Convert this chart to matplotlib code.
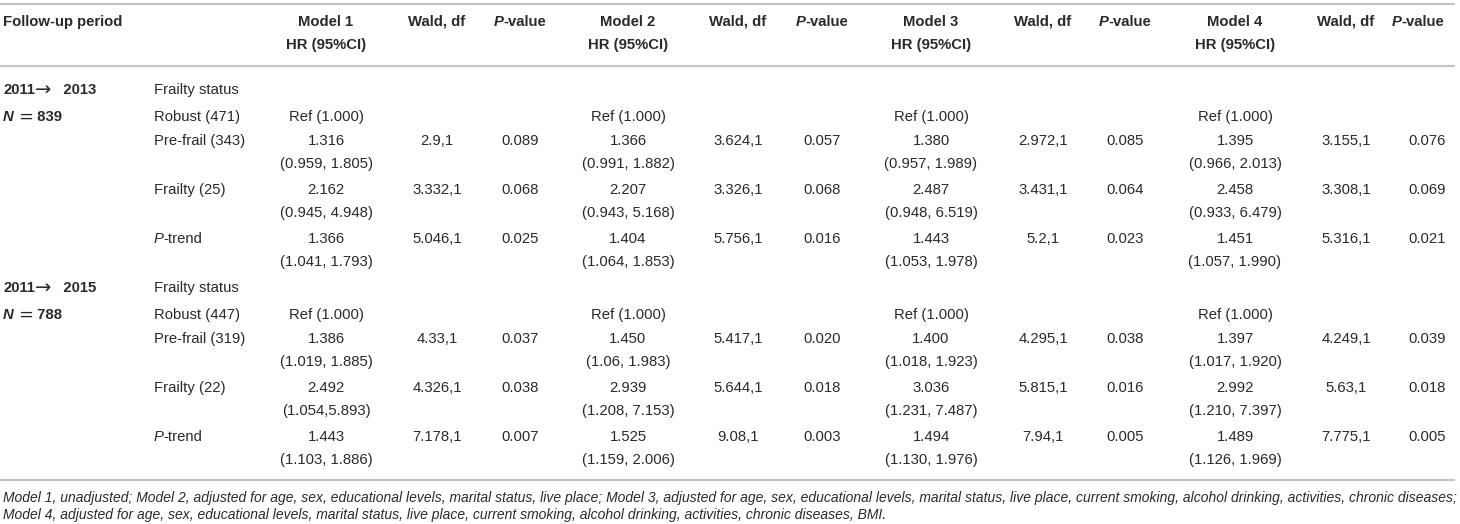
import matplotlib
matplotlib.use('Agg')
import matplotlib.pyplot as plt

plt.rcParams['font.family'] = ['Liberation Sans', 'DejaVu Sans']

# table content
models = ['Model 1', 'Model 2', 'Model 3', 'Model 4']
period_start = ['2011', '2011']
period_end = ['2013', '2015']
period_n = ['839', '788']
groups = [['Robust (471)', 'Pre-frail (343)', 'Frailty (25)'],
          ['Robust (447)', 'Pre-frail (319)', 'Frailty (22)']]

# rows: pre-frail, frailty, p-trend ; columns: model 1..4
hr_2013 = [['1.316', '1.366', '1.380', '1.395'],
           ['2.162', '2.207', '2.487', '2.458'],
           ['1.366', '1.404', '1.443', '1.451']]
ci_2013 = [['(0.959, 1.805)', '(0.991, 1.882)', '(0.957, 1.989)', '(0.966, 2.013)'],
           ['(0.945, 4.948)', '(0.943, 5.168)', '(0.948, 6.519)', '(0.933, 6.479)'],
           ['(1.041, 1.793)', '(1.064, 1.853)', '(1.053, 1.978)', '(1.057, 1.990)']]
wald_2013 = [['2.9,1', '3.624,1', '2.972,1', '3.155,1'],
             ['3.332,1', '3.326,1', '3.431,1', '3.308,1'],
             ['5.046,1', '5.756,1', '5.2,1', '5.316,1']]
p_2013 = [['0.089', '0.057', '0.085', '0.076'],
          ['0.068', '0.068', '0.064', '0.069'],
          ['0.025', '0.016', '0.023', '0.021']]

hr_2015 = [['1.386', '1.450', '1.400', '1.397'],
           ['2.492', '2.939', '3.036', '2.992'],
           ['1.443', '1.525', '1.494', '1.489']]
ci_2015 = [['(1.019, 1.885)', '(1.06, 1.983)', '(1.018, 1.923)', '(1.017, 1.920)'],
           ['(1.054,5.893)', '(1.208, 7.153)', '(1.231, 7.487)', '(1.210, 7.397)'],
           ['(1.103, 1.886)', '(1.159, 2.006)', '(1.130, 1.976)', '(1.126, 1.969)']]
wald_2015 = [['4.33,1', '5.417,1', '4.295,1', '4.249,1'],
             ['4.326,1', '5.644,1', '5.815,1', '5.63,1'],
             ['7.178,1', '9.08,1', '7.94,1', '7.775,1']]
p_2015 = [['0.037', '0.020', '0.038', '0.039'],
          ['0.038', '0.018', '0.016', '0.018'],
          ['0.007', '0.003', '0.005', '0.005']]

hr_all = [hr_2013, hr_2015]
ci_all = [ci_2013, ci_2015]
wald_all = [wald_2013, wald_2015]
p_all = [p_2013, p_2015]

footnote = ['Model 1, unadjusted; Model 2, adjusted for age, sex, educational levels, marital status, '
            'live place; Model 3, adjusted for age, sex, educational levels, marital status, live place, '
            'current smoking, alcohol drinking, activities, chronic diseases;',
            'Model 4, adjusted for age, sex, educational levels, marital status, live place, current smoking, '
            'alcohol drinking, activities, chronic diseases, BMI.']

# layout (pixel coordinates)
W, H = 1460, 524
fs = 10.7
col = '#2a2a2a'
rule = '#c4c4c4'
x_model = [326, 628, 931, 1235]
x_wald = [437, 738, 1043, 1346]
x_p = [520, 822, 1125, 1427]
x_p_head = [520, 822, 1125, 1418]

fig = plt.figure(figsize=(W / 100, H / 100), dpi=100)
ax = fig.add_axes([0, 0, 1, 1])
ax.set_xlim(0, W)
ax.set_ylim(H, 0)
ax.axis('off')
renderer = fig.canvas.get_renderer()


def txt(x, y, s, **kw):
    opts = dict(fontsize=fs, color=col, va='center', ha='center')
    opts.update(kw)
    return ax.text(x, y, s, **opts)


def rich(x, y, parts, ha='left'):
    # parts: list of (text, dict of text options) drawn one after another
    items = []
    widths = []
    for s, kw in parts:
        opts = dict(fontsize=fs, color=col, va='center', ha='left')
        opts.update(kw)
        t = ax.text(0, y, s, **opts)
        bb = t.get_window_extent(renderer)
        items.append(t)
        widths.append(bb.width)
    total = sum(widths)
    x0 = x - total / 2 if ha == 'center' else x
    for t, w in zip(items, widths):
        t.set_x(x0)
        x0 += w


# rules
for yy in [4, 66, 480]:
    ax.plot([0, 1455], [yy, yy], color=rule, lw=1.6, solid_capstyle='butt')

# header
txt(3, 22, 'Follow-up period', ha='left', weight='bold')
for i, m in enumerate(models):
    txt(x_model[i], 22, m, weight='bold')
    txt(x_model[i], 45, 'HR (95%CI)', weight='bold')
    txt(x_wald[i], 22, 'Wald, df', weight='bold')
    rich(x_p_head[i], 22, [('P', dict(style='italic', weight='bold')),
                           ('-value', dict(weight='bold'))], ha='center')

# body
for k in range(2):
    y0 = 90 + k * 198
    rich(3, y0, [(period_start[k], dict(weight='bold')),
                 ('\u2192', dict(family='DejaVu Sans', fontsize=14)),
                 ('   ' + period_end[k], dict(weight='bold'))])
    rich(3, y0 + 27, [('N ', dict(style='italic', weight='bold')),
                      ('=', dict(family='DejaVu Sans', fontsize=13)),
                      (' ' + period_n[k], dict(weight='bold'))])
    txt(154, y0, 'Frailty status', ha='left')
    txt(154, y0 + 27, groups[k][0], ha='left')
    for i in range(4):
        txt(x_model[i], y0 + 27, 'Ref (1.000)')
    for r in range(3):
        yr = y0 + 51 + r * 49
        if r < 2:
            txt(154, yr, groups[k][r + 1], ha='left')
        else:
            rich(154, yr, [('P', dict(style='italic')), ('-trend', dict())])
        for i in range(4):
            txt(x_model[i], yr, hr_all[k][r][i])
            txt(x_model[i], yr + 23, ci_all[k][r][i])
            txt(x_wald[i], yr, wald_all[k][r][i])
            txt(x_p[i], yr, p_all[k][r][i])

# footnote
txt(3, 498, footnote[0], ha='left', style='italic', fontsize=10.0)
txt(3, 515, footnote[1], ha='left', style='italic', fontsize=10.0)

fig.savefig('out.png', dpi=100)
